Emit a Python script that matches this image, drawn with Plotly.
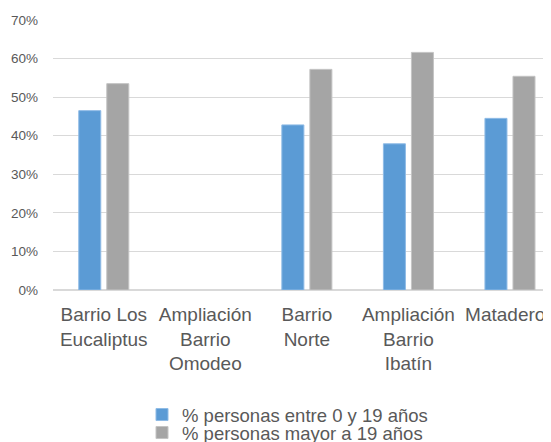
import plotly.graph_objects as go

categories = ["Barrio Los<br>Eucaliptus", "Ampliación<br>Barrio<br>Omodeo", "Barrio<br>Norte",
              "Ampliación<br>Barrio<br>Ibatín", "Mataderos"]
series_names = ["% personas entre 0 y 19 años", "% personas mayor a 19 años"]
young = [0.465, None, 0.428, 0.379, 0.445]
adult = [0.535, None, 0.572, 0.616, 0.554]
y_ticks = [0, 0.1, 0.2, 0.3, 0.4, 0.5, 0.6, 0.7]

OFF = 8  # page body margin
W, H = 551 - OFF, 442 - OFF
ML, MT = 53 - OFF, 20 - OFF
MB = H - (290 - OFF)

fig = go.Figure()
fig.add_trace(go.Bar(x=categories, y=young, name=series_names[0],
                     marker=dict(color="#5B9BD5", line=dict(color="#8FBBE6", width=1)),
                     legend="legend"))
fig.add_trace(go.Bar(x=categories, y=adult, name=series_names[1],
                     marker=dict(color="#A5A5A5", line=dict(color="#C4C4C4", width=1)),
                     legend="legend2"))

plot_h = H - MT - MB
plot_w = W - ML

def ly(px):
    return ((290 - OFF) - (px - OFF)) / plot_h

lx = (182 - OFF - 40 - ML) / plot_w
font = dict(family="Liberation Sans, Arial, sans-serif", color="#595959")

fig.update_layout(
    width=W, height=H,
    margin=dict(l=ML, r=0, t=MT, b=MB, autoexpand=False),
    paper_bgcolor="white", plot_bgcolor="white",
    barmode="group", bargap=0.448, bargroupgap=0.214,
    font=font,
    xaxis=dict(range=[-0.5, 4.404], showgrid=False, showline=False, ticks="",
               tickfont=dict(size=19, color="#595959"), tickangle=0, automargin=False,
               ticklabelstandoff=11),
    yaxis=dict(range=[0, 0.7], tickvals=y_ticks, tickformat=".0%", showgrid=True,
               gridcolor="#D9D9D9", gridwidth=1, zeroline=True, zerolinecolor="#D9D9D9",
               showline=False, ticks="", tickfont=dict(size=13.5, color="#595959"),
               ticklabelstandoff=14, automargin=False),
    legend=dict(x=lx, y=ly(415), xanchor="left", yanchor="middle",
                font=dict(size=18.5, color="#595959"), bgcolor="rgba(0,0,0,0)", itemwidth=30),
    legend2=dict(x=lx, y=ly(433), xanchor="left", yanchor="middle",
                 font=dict(size=18.5, color="#595959"), bgcolor="rgba(0,0,0,0)", itemwidth=30),
    showlegend=True,
)

fig.write_html("out.html")
